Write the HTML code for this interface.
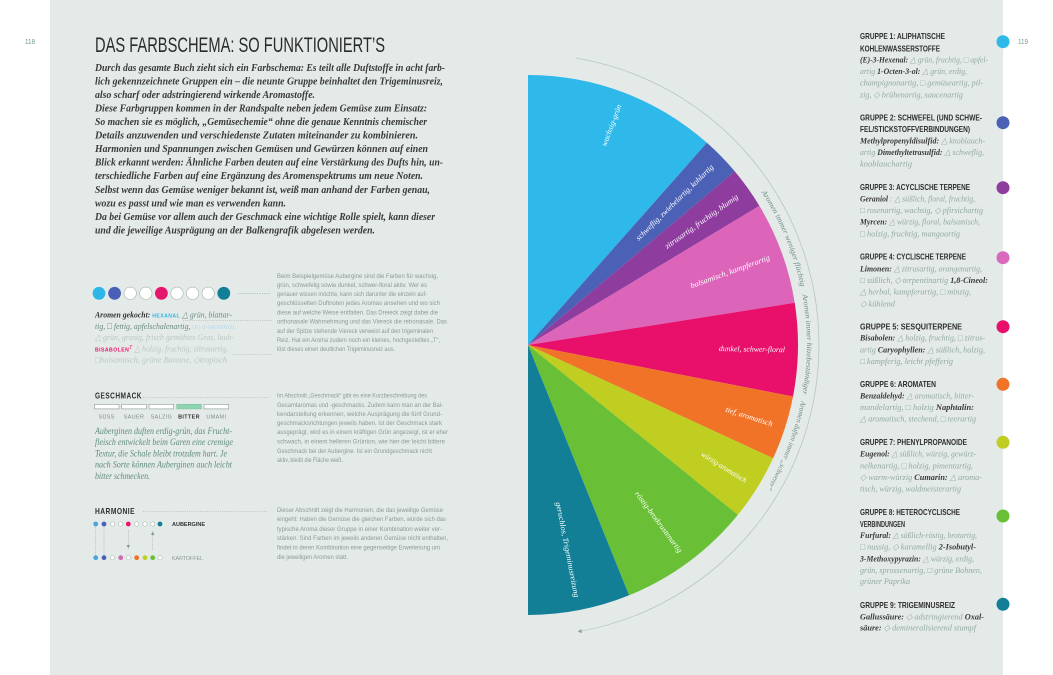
<!DOCTYPE html>
<html><head><meta charset="utf-8"><style>
html,body{margin:0;padding:0;background:#fff;}
svg{display:block;}
.ser{font-family:"Liberation Serif",serif;font-style:italic;}
.sans{font-family:"Liberation Sans Narrow","Liberation Sans",sans-serif;}
.intro{font-family:"Liberation Serif",serif;font-style:italic;font-weight:bold;font-size:10.6px;fill:#3a3a3a;}
.tiny{font-family:"Liberation Sans Narrow","Liberation Sans",sans-serif;font-size:6.6px;fill:#8d9995;}
.hd{font-family:"Liberation Sans Narrow","Liberation Sans",sans-serif;font-weight:bold;font-size:8.4px;fill:#2e2e2e;}
.bd{font-family:"Liberation Serif",serif;font-style:italic;font-size:8.6px;fill:#93a9a1;}
.nm{font-weight:bold;fill:#3a3a3a;}
.wl{font-family:"Liberation Serif",serif;font-style:italic;font-size:7.8px;fill:#ffffff;}
.arc{font-family:"Liberation Serif",serif;font-style:italic;font-size:7.4px;fill:#6f8d86;}
</style></head><body>
<svg width="1053" height="675" viewBox="0 0 1053 675" xmlns="http://www.w3.org/2000/svg">
<rect x="0" y="0" width="1053" height="675" fill="#ffffff"/>
<rect x="50" y="0" width="953" height="675" fill="#e4eae8"/>

<!-- page numbers -->
<text x="25" y="44" class="sans" font-size="7" fill="#6f9a88" textLength="10" lengthAdjust="spacingAndGlyphs">118</text>
<text x="1018" y="44" class="sans" font-size="7" fill="#6f9a88" textLength="10" lengthAdjust="spacingAndGlyphs">119</text>

<!-- title -->
<text x="95" y="52" class="sans" font-size="21" fill="#2a2a2a" textLength="290" lengthAdjust="spacingAndGlyphs">DAS FARBSCHEMA: SO FUNKTIONIERT’S</text>

<!-- intro -->
<g class="intro">
<text x="95" y="71" textLength="350" lengthAdjust="spacingAndGlyphs">Durch das gesamte Buch zieht sich ein Farbschema: Es teilt alle Duftstoffe in acht farb-</text>
<text x="95" y="84.5" textLength="348" lengthAdjust="spacingAndGlyphs">lich gekennzeichnete Gruppen ein – die neunte Gruppe beinhaltet den Trigeminusreiz,</text>
<text x="95" y="98.1" textLength="220" lengthAdjust="spacingAndGlyphs">also scharf oder adstringierend wirkende Aromastoffe.</text>
<text x="95" y="111.6" textLength="332" lengthAdjust="spacingAndGlyphs">Diese Farbgruppen kommen in der Randspalte neben jedem Gemüse zum Einsatz:</text>
<text x="95" y="125.1" textLength="332" lengthAdjust="spacingAndGlyphs">So machen sie es möglich, „Gemüsechemie“ ohne die genaue Kenntnis chemischer</text>
<text x="95" y="138.7" textLength="323" lengthAdjust="spacingAndGlyphs">Details anzuwenden und verschiedenste Zutaten miteinander zu kombinieren.</text>
<text x="95" y="152.2" textLength="333" lengthAdjust="spacingAndGlyphs">Harmonien und Spannungen zwischen Gemüsen und Gewürzen können auf einen</text>
<text x="95" y="165.7" textLength="348" lengthAdjust="spacingAndGlyphs">Blick erkannt werden: Ähnliche Farben deuten auf eine Verstärkung des Dufts hin, un-</text>
<text x="95" y="179.2" textLength="328" lengthAdjust="spacingAndGlyphs">terschiedliche Farben auf eine Ergänzung des Aromenspektrums um neue Noten.</text>
<text x="95" y="192.8" textLength="335" lengthAdjust="spacingAndGlyphs">Selbst wenn das Gemüse weniger bekannt ist, weiß man anhand der Farben genau,</text>
<text x="95" y="206.3" textLength="191" lengthAdjust="spacingAndGlyphs">wozu es passt und wie man es verwenden kann.</text>
<text x="95" y="219.8" textLength="340" lengthAdjust="spacingAndGlyphs">Da bei Gemüse vor allem auch der Geschmack eine wichtige Rolle spielt, kann dieser</text>
<text x="95" y="233.4" textLength="280" lengthAdjust="spacingAndGlyphs">und die jeweilige Ausprägung an der Balkengrafik abgelesen werden.</text>
</g>

<!-- aroma dots -->
<g stroke="#a3b0ac" stroke-width="0.6">
<circle cx="99" cy="293.3" r="6.4" fill="#2eb6e8" stroke="none"/>
<circle cx="114.6" cy="293.3" r="6.4" fill="#4a5fb5" stroke="none"/>
<circle cx="130.2" cy="293.3" r="6.2" fill="#ffffff"/>
<circle cx="145.8" cy="293.3" r="6.2" fill="#ffffff"/>
<circle cx="161.4" cy="293.3" r="6.4" fill="#e5166c" stroke="none"/>
<circle cx="177" cy="293.3" r="6.2" fill="#ffffff"/>
<circle cx="192.6" cy="293.3" r="6.2" fill="#ffffff"/>
<circle cx="208.2" cy="293.3" r="6.2" fill="#ffffff"/>
<circle cx="223.8" cy="293.3" r="6.4" fill="#117f95" stroke="none"/>
</g>
<line x1="238" y1="293.5" x2="270" y2="293.5" stroke="#98a6a1" stroke-width="0.7" stroke-dasharray="1,1.4"/>
<line x1="183" y1="320.5" x2="272" y2="320.5" stroke="#98a6a1" stroke-width="0.6" stroke-dasharray="1,1.2"/>
<line x1="233" y1="354.5" x2="272" y2="354.5" stroke="#98a6a1" stroke-width="0.6" stroke-dasharray="1,1.2"/>

<g class="ser" font-size="8.8">
<text x="95" y="317.5" textLength="137" lengthAdjust="spacingAndGlyphs"><tspan font-weight="bold" fill="#333">Aromen gekocht: </tspan><tspan class="sans" font-weight="bold" font-style="normal" font-size="5.8" fill="#2eb6e8" letter-spacing="0.5">HEXANAL</tspan><tspan fill="#6c8a82"> △ grün, blattar-</tspan></text>
<text x="95" y="328.8" textLength="141" lengthAdjust="spacingAndGlyphs"><tspan fill="#6c8a82">tig, □ fettig, apfelschalenartig, </tspan><tspan class="sans" font-style="normal" font-size="5.8" fill="#a8dbee" letter-spacing="0.5">(E)-3-HEXENOL</tspan></text>
<text x="95" y="340.1" textLength="139" lengthAdjust="spacingAndGlyphs" fill="#bac8c3">△ grün, grasig, frisch gemähtes Gras, laub-</text>
<text x="95" y="351.4" textLength="133" lengthAdjust="spacingAndGlyphs"><tspan class="sans" font-weight="bold" font-style="normal" font-size="5.8" fill="#e5166c" letter-spacing="0.5">BISABOLEN</tspan><tspan fill="#e5166c" font-size="6" dy="-2.5">T</tspan><tspan fill="#bac8c3" dy="2.5"> △ holzig, fruchtig, zitrusartig,</tspan></text>
<text x="95" y="362.7" textLength="132" lengthAdjust="spacingAndGlyphs" fill="#bac8c3">□balsamisch, grüne Banane, ◇tropisch</text>
</g>

<g class="tiny">
<text x="277" y="277.8" textLength="161" lengthAdjust="spacingAndGlyphs">Beim Beispielgemüse Aubergine sind die Farben für wachsig,</text>
<text x="277" y="286.8" textLength="150" lengthAdjust="spacingAndGlyphs">grün, schwefelig sowie dunkel, schwer-floral aktiv. Wer es</text>
<text x="277" y="296.1" textLength="150" lengthAdjust="spacingAndGlyphs">genauer wissen möchte, kann sich darunter die einzeln auf-</text>
<text x="277" y="305.1" textLength="163" lengthAdjust="spacingAndGlyphs">geschlüsselten Duftnoten jedes Aromas ansehen und wo sich</text>
<text x="277" y="314.5" textLength="161" lengthAdjust="spacingAndGlyphs">diese auf welche Weise entfalten. Das Dreieck zeigt dabei die</text>
<text x="277" y="323.5" textLength="170" lengthAdjust="spacingAndGlyphs">orthonasale Wahrnehmung und das Viereck die retronasale. Das</text>
<text x="277" y="332.8" textLength="156" lengthAdjust="spacingAndGlyphs">auf der Spitze stehende Viereck verweist auf den trigeminalen</text>
<text x="277" y="341.8" textLength="163" lengthAdjust="spacingAndGlyphs">Reiz. Hat ein Aroma zudem noch ein kleines, hochgestelltes „T“,</text>
<text x="277" y="351.1" textLength="118" lengthAdjust="spacingAndGlyphs">löst dieses einen deutlichen Trigeminusreiz aus.</text>
</g>

<!-- Geschmack -->
<text x="95" y="398.6" class="hd" font-size="8" letter-spacing="0.6" textLength="47" lengthAdjust="spacingAndGlyphs">GESCHMACK</text>
<line x1="143" y1="397.5" x2="270" y2="397.5" stroke="#98a6a1" stroke-width="0.6" stroke-dasharray="1,1.2"/>
<g stroke="#8a9894" stroke-width="0.6">
<rect x="94.3" y="404.3" width="24.7" height="4.6" fill="#ffffff"/>
<rect x="121.7" y="404.3" width="24.7" height="4.6" fill="#ffffff"/>
<rect x="149" y="404.3" width="24.7" height="4.6" fill="#ffffff"/>
<rect x="176.7" y="404.3" width="24.7" height="4.6" fill="#8fd4b1" stroke="#7fc3a2"/>
<rect x="204" y="404.3" width="24.7" height="4.6" fill="#ffffff"/>
</g>
<g class="sans" font-size="5.4" fill="#7d8a86" text-anchor="middle" letter-spacing="0.4">
<text x="106.6" y="418.6">SÜSS</text>
<text x="134" y="418.6">SAUER</text>
<text x="161.4" y="418.6">SALZIG</text>
<text x="189" y="418.6" font-weight="bold" fill="#333">BITTER</text>
<text x="216.4" y="418.6">UMAMI</text>
</g>
<g class="ser" font-size="9" fill="#5f8c7f">
<text x="95" y="434" textLength="137" lengthAdjust="spacingAndGlyphs">Auberginen duften erdig-grün, das Frucht-</text>
<text x="95" y="445.2" textLength="138" lengthAdjust="spacingAndGlyphs">fleisch entwickelt beim Garen eine cremige</text>
<text x="95" y="456.4" textLength="132" lengthAdjust="spacingAndGlyphs">Textur, die Schale bleibt trotzdem hart. Je</text>
<text x="95" y="467.6" textLength="137" lengthAdjust="spacingAndGlyphs">nach Sorte können Auberginen auch leicht</text>
<text x="95" y="478.8" textLength="55" lengthAdjust="spacingAndGlyphs">bitter schmecken.</text>
</g>
<g class="tiny">
<text x="277" y="397.5" textLength="150" lengthAdjust="spacingAndGlyphs">Im Abschnitt „Geschmack“ gibt es eine Kurzbeschreibung des</text>
<text x="277" y="406.8" textLength="166" lengthAdjust="spacingAndGlyphs">Gesamtaromas und -geschmacks. Zudem kann man an der Bal-</text>
<text x="277" y="415.8" textLength="165" lengthAdjust="spacingAndGlyphs">kendarstellung erkennen, welche Ausprägung die fünf Grund-</text>
<text x="277" y="425.1" textLength="165" lengthAdjust="spacingAndGlyphs">geschmacksrichtungen jeweils haben. Ist der Geschmack stark</text>
<text x="277" y="434.1" textLength="171" lengthAdjust="spacingAndGlyphs">ausgeprägt, wird es in einem kräftigen Grün angezeigt, ist er eher</text>
<text x="277" y="443.5" textLength="168" lengthAdjust="spacingAndGlyphs">schwach, in einem helleren Grünton, wie hier der leicht bittere</text>
<text x="277" y="452.8" textLength="155" lengthAdjust="spacingAndGlyphs">Geschmack bei der Aubergine. Ist ein Grundgeschmack nicht</text>
<text x="277" y="461.8" textLength="66" lengthAdjust="spacingAndGlyphs">aktiv, bleibt die Fläche weiß.</text>
</g>

<!-- Harmonie -->
<text x="95" y="513.8" class="hd" font-size="8" letter-spacing="0.6" textLength="40" lengthAdjust="spacingAndGlyphs">HARMONIE</text>
<line x1="143" y1="511.5" x2="267" y2="511.5" stroke="#98a6a1" stroke-width="0.6" stroke-dasharray="1,1.2"/>
<g stroke="#98a6a1" stroke-width="0.5">
<circle cx="95.7" cy="524" r="2.4" fill="#48a4da" stroke="none"/>
<circle cx="104" cy="524" r="2.4" fill="#4a5fb5" stroke="none"/>
<circle cx="112.3" cy="524" r="2.2" fill="#fff"/>
<circle cx="120.7" cy="524" r="2.2" fill="#fff"/>
<circle cx="128.3" cy="524" r="2.4" fill="#e5166c" stroke="none"/>
<circle cx="136.7" cy="524" r="2.2" fill="#fff"/>
<circle cx="145" cy="524" r="2.2" fill="#fff"/>
<circle cx="152.7" cy="524" r="2.2" fill="#fff"/>
<circle cx="160" cy="524" r="2.4" fill="#117f95" stroke="none"/>
<circle cx="95.7" cy="557.7" r="2.4" fill="#48a4da" stroke="none"/>
<circle cx="104" cy="557.7" r="2.4" fill="#4a5fb5" stroke="none"/>
<circle cx="112.3" cy="557.7" r="2.2" fill="#fff"/>
<circle cx="120.7" cy="557.7" r="2.4" fill="#d36ab0" stroke="none"/>
<circle cx="128.3" cy="557.7" r="2.2" fill="#fff"/>
<circle cx="136.7" cy="557.7" r="2.4" fill="#f07226" stroke="none"/>
<circle cx="145" cy="557.7" r="2.4" fill="#bfcf1f" stroke="none"/>
<circle cx="152.7" cy="557.7" r="2.4" fill="#69bf37" stroke="none"/>
<circle cx="160" cy="557.7" r="2.2" fill="#fff"/>
</g>
<g stroke-width="0.6" stroke-dasharray="0.8,1">
<line x1="95.7" y1="527" x2="95.7" y2="555" stroke="#7fb3d6"/>
<line x1="104" y1="527" x2="104" y2="555" stroke="#8b94c6"/>
<line x1="128.3" y1="530" x2="128.3" y2="545" stroke="#98a6a1"/>
<line x1="152.7" y1="535" x2="152.7" y2="550" stroke="#98a6a1"/>
</g>
<path d="M126.6,545 L130,545 L128.3,548.6 Z" fill="#8a9894"/>
<path d="M151,535 L154.4,535 L152.7,531.4 Z" fill="#8a9894"/>
<text x="172" y="526.2" class="sans" font-size="5.4" font-weight="bold" fill="#333" textLength="33" lengthAdjust="spacingAndGlyphs">AUBERGINE</text>
<text x="172" y="560" class="sans" font-size="5.4" fill="#8a9894" textLength="31" lengthAdjust="spacingAndGlyphs">KARTOFFEL</text>
<g class="tiny">
<text x="277" y="511.8" textLength="166" lengthAdjust="spacingAndGlyphs">Dieser Abschnitt zeigt die Harmonien, die das jeweilige Gemüse</text>
<text x="277" y="521.1" textLength="169" lengthAdjust="spacingAndGlyphs">eingeht: Haben die Gemüse die gleichen Farben, würde sich das</text>
<text x="277" y="530.8" textLength="165" lengthAdjust="spacingAndGlyphs">typische Aroma dieser Gruppe in einer Kombination weiter ver-</text>
<text x="277" y="540.1" textLength="171" lengthAdjust="spacingAndGlyphs">stärken. Sind Farben im jeweils anderen Gemüse nicht enthalten,</text>
<text x="277" y="549.5" textLength="163" lengthAdjust="spacingAndGlyphs">findet in deren Kombination eine gegenseitige Erweiterung um</text>
<text x="277" y="559.1" textLength="71" lengthAdjust="spacingAndGlyphs">die jeweiligen Aromen statt.</text>
</g>

<!-- fan chart -->
<g>
<path d="M528,345 L528,75 A270,270 0 0 1 706.9,142.8 Z" fill="#2fb8ea"/>
<path d="M528,345 L706.9,142.8 A270,270 0 0 1 734.8,171.4 Z" fill="#4a61b6"/>
<path d="M528,345 L734.8,171.4 A270,270 0 0 1 759.4,205.9 Z" fill="#8f3c9f"/>
<path d="M528,345 L759.4,205.9 A270,270 0 0 1 794.7,302.8 Z" fill="#dc64b9"/>
<path d="M528,345 L794.7,302.8 A270,270 0 0 1 793.0,396.5 Z" fill="#e8106b"/>
<path d="M528,345 L793.0,396.5 A270,270 0 0 1 773.1,458.3 Z" fill="#f17328"/>
<path d="M528,345 L773.1,458.3 A270,270 0 0 1 737.8,514.9 Z" fill="#bfce20"/>
<path d="M528,345 L737.8,514.9 A270,270 0 0 1 629.1,595.3 Z" fill="#69c037"/>
<path d="M528,345 L629.1,595.3 A270,270 0 0 1 528,615 Z" fill="#127f97"/>
</g>
<g class="wl" text-anchor="end">
<g transform="translate(528,345) rotate(-69.25)"><text x="257" y="2.7" textLength="44" lengthAdjust="spacingAndGlyphs">wachsig-grün</text></g>
<g transform="translate(528,345) rotate(-44.25)"><text x="257" y="2.7" textLength="105" lengthAdjust="spacingAndGlyphs">schweflig, zwiebelartig, kohlartig</text></g>
<g transform="translate(528,345) rotate(-35.5)"><text x="257" y="2.7" textLength="88" lengthAdjust="spacingAndGlyphs">zitrusartig, fruchtig, blumig</text></g>
<g transform="translate(528,345) rotate(-20)"><text x="257" y="2.7" textLength="84" lengthAdjust="spacingAndGlyphs">balsamisch, kampferartig</text></g>
<g transform="translate(528,345) rotate(1)"><text x="257" y="2.7" textLength="66" lengthAdjust="spacingAndGlyphs">dunkel, schwer-floral</text></g>
<g transform="translate(528,345) rotate(17.9)"><text x="257" y="2.7" textLength="49" lengthAdjust="spacingAndGlyphs">tief, aromatisch</text></g>
<g transform="translate(528,345) rotate(31.9)"><text x="257" y="2.7" textLength="52" lengthAdjust="spacingAndGlyphs">würzig-aromatisch</text></g>
<g transform="translate(528,345) rotate(53.5)"><text x="257" y="2.7" textLength="74" lengthAdjust="spacingAndGlyphs">röstig-brotkrustenartig</text></g>
<g transform="translate(528,345) rotate(79)"><text x="257" y="2.7" textLength="97" lengthAdjust="spacingAndGlyphs">geruchlos, Trigeminusreizung</text></g>
</g>

<!-- outer arc with arrow -->
<defs>
<marker id="ah" viewBox="0 0 10 10" refX="8" refY="5" markerWidth="5" markerHeight="5" orient="auto">
<path d="M0,0 L10,5 L0,10 Z" fill="#8e9c97"/>
</marker>
<path id="arcT" d="M741.7,165.7 A279,279 0 0 1 741.7,524.3"/>
</defs>
<path d="M576.5,58.1 A291,291 0 0 1 578.5,631.6" fill="none" stroke="#b9c5c1" stroke-width="0.8" marker-end="url(#ah)"/>
<text class="arc"><textPath href="#arcT" startOffset="33" textLength="103" lengthAdjust="spacingAndGlyphs">Aromen immer weniger flüchtig</textPath></text>
<text class="arc"><textPath href="#arcT" startOffset="144" textLength="100" lengthAdjust="spacingAndGlyphs">Aromen immer hitzebeständiger</textPath></text>
<text class="arc"><textPath href="#arcT" startOffset="251" textLength="95" lengthAdjust="spacingAndGlyphs">Aromen duften immer „schwerer“</textPath></text>

<!-- right column dots -->
<circle cx="1003" cy="41.7" r="6.5" fill="#2fb8ea"/>
<circle cx="1003" cy="122.7" r="6.5" fill="#4a61b6"/>
<circle cx="1003" cy="187.7" r="6.5" fill="#8f3c9f"/>
<circle cx="1003" cy="257.7" r="6.5" fill="#d869bd"/>
<circle cx="1003" cy="326.7" r="6.5" fill="#e8106b"/>
<circle cx="1003" cy="384.3" r="6.5" fill="#f17328"/>
<circle cx="1003" cy="442.3" r="6.5" fill="#bfce20"/>
<circle cx="1003" cy="516" r="6.5" fill="#69c037"/>
<circle cx="1003" cy="604.3" r="6.5" fill="#127f97"/>

<!-- right column text -->
<g class="hd">
<text x="860" y="39" textLength="85" lengthAdjust="spacingAndGlyphs">GRUPPE 1: ALIPHATISCHE</text>
<text x="860" y="51.3" textLength="80" lengthAdjust="spacingAndGlyphs">KOHLENWASSERSTOFFE</text>
<text x="860" y="120.6" textLength="122" lengthAdjust="spacingAndGlyphs">GRUPPE 2: SCHWEFEL (UND SCHWE-</text>
<text x="860" y="132.2" textLength="110" lengthAdjust="spacingAndGlyphs">FEL/STICKSTOFFVERBINDUNGEN)</text>
<text x="860" y="190.2" textLength="110" lengthAdjust="spacingAndGlyphs">GRUPPE 3: ACYCLISCHE TERPENE</text>
<text x="860" y="259.6" textLength="106" lengthAdjust="spacingAndGlyphs">GRUPPE 4: CYCLISCHE TERPENE</text>
<text x="860" y="329.6" textLength="102" lengthAdjust="spacingAndGlyphs">GRUPPE 5: SESQUITERPENE</text>
<text x="860" y="387.2" textLength="76" lengthAdjust="spacingAndGlyphs">GRUPPE 6: AROMATEN</text>
<text x="860" y="445.2" textLength="107" lengthAdjust="spacingAndGlyphs">GRUPPE 7: PHENYLPROPANOIDE</text>
<text x="860" y="515.2" textLength="100" lengthAdjust="spacingAndGlyphs">GRUPPE 8: HETEROCYCLISCHE</text>
<text x="860" y="527.2" textLength="45" lengthAdjust="spacingAndGlyphs">VERBINDUNGEN</text>
<text x="860" y="607.9" textLength="95" lengthAdjust="spacingAndGlyphs">GRUPPE 9: TRIGEMINUSREIZ</text>
</g>
<g class="bd">
<text x="860" y="62.3" textLength="128" lengthAdjust="spacingAndGlyphs"><tspan class="nm">(E)-3-Hexenal:</tspan> △ grün, fruchtig, □ apfel-</text>
<text x="860" y="74" textLength="107" lengthAdjust="spacingAndGlyphs">artig   <tspan class="nm">1-Octen-3-ol:</tspan> △ grün, erdig,</text>
<text x="860" y="85.6" textLength="123" lengthAdjust="spacingAndGlyphs">champignonartig, □ gemüseartig, pil-</text>
<text x="860" y="97.3" textLength="103" lengthAdjust="spacingAndGlyphs">zig, ◇ brühenartig, saucenartig</text>

<text x="860" y="143.3" textLength="125" lengthAdjust="spacingAndGlyphs"><tspan class="nm">Methylpropenyldisulfid:</tspan> △ knoblauch-</text>
<text x="860" y="155" textLength="124" lengthAdjust="spacingAndGlyphs">artig <tspan class="nm">Dimethyltetrasulfid:</tspan> △ schweflig,</text>
<text x="860" y="166.3" textLength="52" lengthAdjust="spacingAndGlyphs">knoblauchartig</text>

<text x="860" y="201.3" textLength="115" lengthAdjust="spacingAndGlyphs"><tspan class="nm">Geraniol</tspan> : △ süßlich, floral, fruchtig,</text>
<text x="860" y="213" textLength="123" lengthAdjust="spacingAndGlyphs">□ rosenartig, wachsig, ◇ pfirsichartig</text>
<text x="860" y="224.6" textLength="120" lengthAdjust="spacingAndGlyphs"><tspan class="nm">Myrcen:</tspan> △ würzig, floral, balsamisch,</text>
<text x="860" y="236.3" textLength="100" lengthAdjust="spacingAndGlyphs">□ holzig, fruchtig, mangoartig</text>

<text x="860" y="271.3" textLength="122" lengthAdjust="spacingAndGlyphs"><tspan class="nm">Limonen:</tspan> △ zitrusartig, orangenartig,</text>
<text x="860" y="283" textLength="128" lengthAdjust="spacingAndGlyphs">□ süßlich, ◇ terpentinartig   <tspan class="nm">1,8-Cineol:</tspan></text>
<text x="860" y="294.6" textLength="111" lengthAdjust="spacingAndGlyphs">△ herbal, kampferartig, □ minzig,</text>
<text x="860" y="306.3" textLength="35" lengthAdjust="spacingAndGlyphs">◇ kühlend</text>

<text x="860" y="340.6" textLength="125" lengthAdjust="spacingAndGlyphs"><tspan class="nm">Bisabolen:</tspan> △ holzig, fruchtig, □ zitrus-</text>
<text x="860" y="352.3" textLength="125" lengthAdjust="spacingAndGlyphs">artig   <tspan class="nm">Caryophyllen:</tspan> △ süßlich, holzig,</text>
<text x="860" y="364" textLength="93" lengthAdjust="spacingAndGlyphs">□ kampferig, leicht pfefferig</text>

<text x="860" y="398.3" textLength="114" lengthAdjust="spacingAndGlyphs"><tspan class="nm">Benzaldehyd:</tspan> △ aromatisch, bitter-</text>
<text x="860" y="410" textLength="114" lengthAdjust="spacingAndGlyphs">mandelartig, □ holzig   <tspan class="nm">Naphtalin:</tspan></text>
<text x="860" y="421.6" textLength="116" lengthAdjust="spacingAndGlyphs">△ aromatisch, stechend, □ teerartig</text>

<text x="860" y="456.6" textLength="116" lengthAdjust="spacingAndGlyphs"><tspan class="nm">Eugenol:</tspan> △ süßlich, würzig, gewürz-</text>
<text x="860" y="468.3" textLength="113" lengthAdjust="spacingAndGlyphs">nelkenartig, □ holzig, pimentartig,</text>
<text x="860" y="480" textLength="122" lengthAdjust="spacingAndGlyphs">◇ warm-würzig   <tspan class="nm">Cumarin:</tspan> △ aroma-</text>
<text x="860" y="491.3" textLength="101" lengthAdjust="spacingAndGlyphs">tisch, würzig, waldmeisterartig</text>

<text x="860" y="538" textLength="117" lengthAdjust="spacingAndGlyphs"><tspan class="nm">Furfural:</tspan> △ süßlich-röstig, brotartig,</text>
<text x="860" y="549.6" textLength="116" lengthAdjust="spacingAndGlyphs">□ nussig, ◇ karamellig   <tspan class="nm">2-Isobutyl-</tspan></text>
<text x="860" y="561.3" textLength="114" lengthAdjust="spacingAndGlyphs"><tspan class="nm">3-Methoxypyrazin:</tspan> △ würzig, erdig,</text>
<text x="860" y="573" textLength="122" lengthAdjust="spacingAndGlyphs">grün, sprossenartig, □ grüne Bohnen,</text>
<text x="860" y="584" textLength="50" lengthAdjust="spacingAndGlyphs">grüner Paprika</text>

<text x="860" y="619.6" textLength="124" lengthAdjust="spacingAndGlyphs"><tspan class="nm">Gallussäure:</tspan> ◇ adstringierend   <tspan class="nm">Oxal-</tspan></text>
<text x="860" y="630.6" textLength="116" lengthAdjust="spacingAndGlyphs"><tspan class="nm">säure:</tspan> ◇ demineralisierend stumpf</text>
</g>
</svg>
</body></html>
